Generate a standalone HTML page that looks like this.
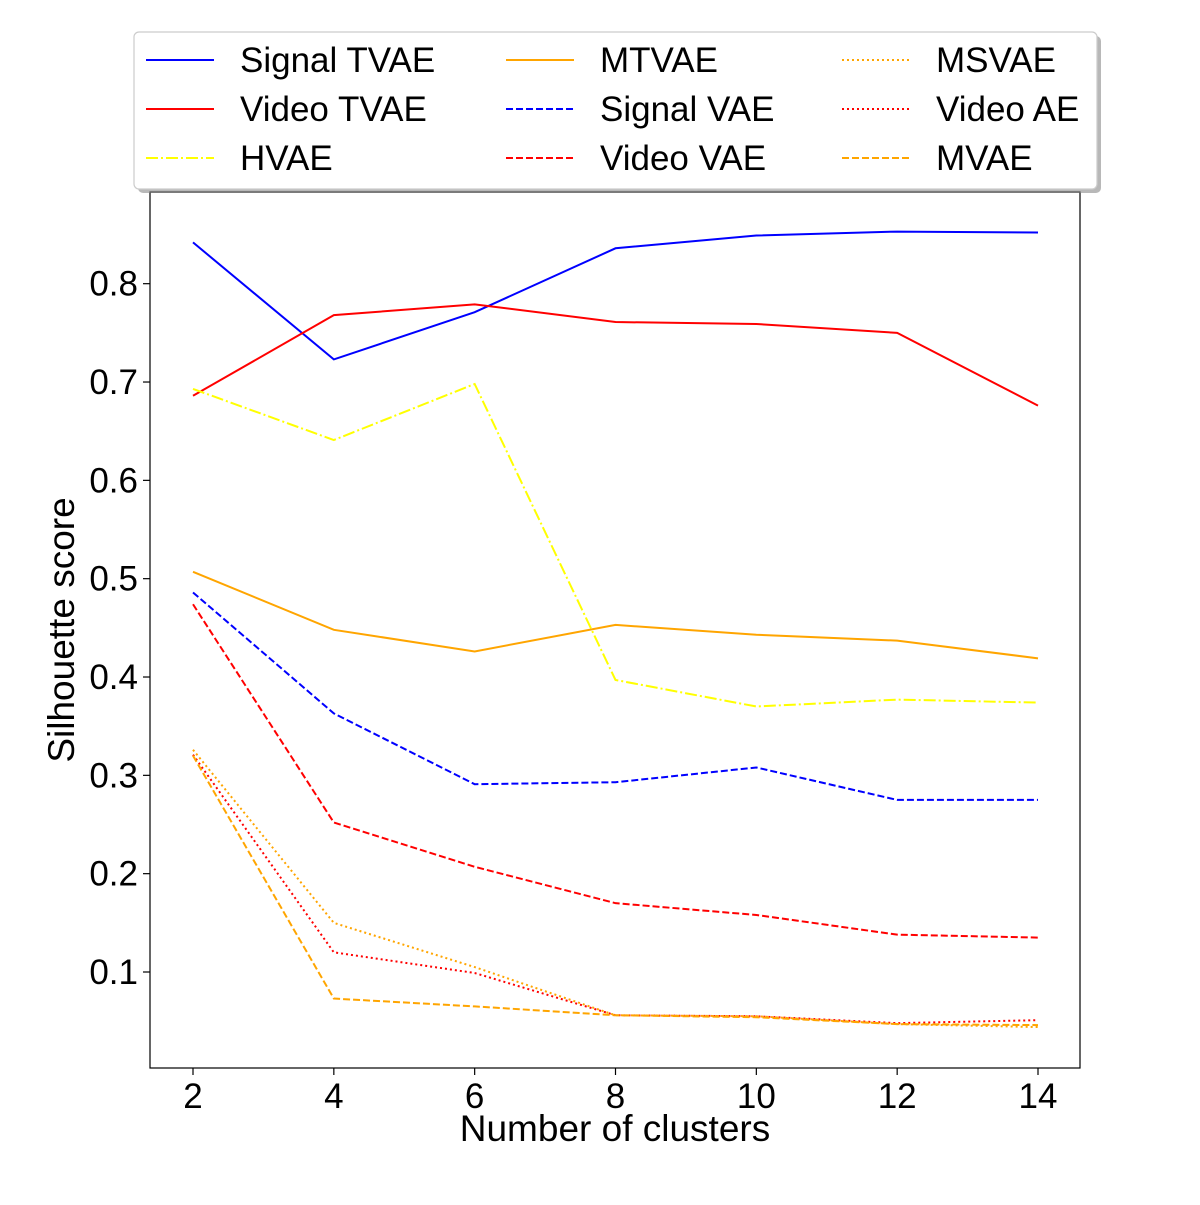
<!DOCTYPE html>
<html><head><meta charset="utf-8"><style>body{margin:0;background:#fff}svg{font-family:"Liberation Sans","DejaVu Sans",sans-serif}</style></head>
<body>
<svg id="chart" width="1200" height="1200" viewBox="0 0 1200 1200" xmlns="http://www.w3.org/2000/svg">
<rect width="1200" height="1200" fill="#fff"/>
<g id="plot"></g>
</svg>
<script>
const clusters=[2,4,6,8,10,12,14];
const signalTVAE=[0.842,0.723,0.771,0.836,0.849,0.853,0.852];
const videoTVAE=[0.686,0.768,0.779,0.761,0.759,0.750,0.676];
const hvae=[0.693,0.641,0.698,0.397,0.370,0.377,0.374];
const mtvae=[0.507,0.448,0.426,0.453,0.443,0.437,0.419];
const signalVAE=[0.486,0.363,0.291,0.293,0.308,0.275,0.275];
const videoVAE=[0.474,0.252,0.207,0.170,0.158,0.138,0.135];
const msvae=[0.326,0.150,0.105,0.056,0.055,0.047,0.044];
const videoAE=[0.321,0.120,0.099,0.056,0.055,0.048,0.051];
const mvae=[0.320,0.073,0.065,0.056,0.054,0.047,0.046];
const yTicks=[0.1,0.2,0.3,0.4,0.5,0.6,0.7,0.8];
const xTicks=[2,4,6,8,10,12,14];
const series=[
 {name:"Signal TVAE",data:signalTVAE,color:"#0000ff",dash:""},
 {name:"Video TVAE",data:videoTVAE,color:"#ff0000",dash:""},
 {name:"HVAE",data:hvae,color:"#ffff00",dash:"12,3,2,3"},
 {name:"MTVAE",data:mtvae,color:"#ffa500",dash:""},
 {name:"Signal VAE",data:signalVAE,color:"#0000ff",dash:"7,3"},
 {name:"Video VAE",data:videoVAE,color:"#ff0000",dash:"7,3"},
 {name:"MSVAE",data:msvae,color:"#ffa500",dash:"2,3"},
 {name:"Video AE",data:videoAE,color:"#ff0000",dash:"2,3"},
 {name:"MVAE",data:mvae,color:"#ffa500",dash:"7,3"}
];
const L=150,R=1080,T=192,B=1068;
const X=v=>193+(v-2)*(1038-193)/12;
const Y=v=>972-(v-0.1)*983.3;
const NS="http://www.w3.org/2000/svg";
const g=document.getElementById('plot');
function mk(t,a,p){const e=document.createElementNS(NS,t);for(const k in a)e.setAttribute(k,a[k]);(p||g).appendChild(e);return e;}
const frame=mk('rect',{x:L,y:T,width:R-L,height:B-T,fill:'none',stroke:'#000','stroke-width':1.2});


series.forEach(s=>{
 const p=mk('polyline',{points:s.data.map((v,i)=>X(clusters[i])+','+Y(v)).join(' '),fill:'none',stroke:s.color,'stroke-width':2,'stroke-dasharray':s.dash});
 
 
});
yTicks.forEach(v=>{
 mk('line',{x1:L-7,x2:L,y1:Y(v),y2:Y(v),stroke:'#000','stroke-width':1.2});
 const t=mk('text',{x:L-12,y:Y(v)+12,'text-anchor':'end','font-size':35});
 t.textContent=v.toFixed(1);
 
 
});
xTicks.forEach(v=>{
 mk('line',{x1:X(v),x2:X(v),y1:B,y2:B+7,stroke:'#000','stroke-width':1.2});
 const t=mk('text',{x:X(v),y:B+40,'text-anchor':'middle','font-size':35});
 t.textContent=v;
 
 
});
const xt=mk('text',{x:615,y:1141,'text-anchor':'middle','font-size':37});
xt.textContent='Number of clusters';


const yt=mk('text',{x:74,y:630,'text-anchor':'middle','font-size':37,transform:'rotate(-90 74 630)'});
yt.textContent='Silhouette score';


const lg=mk('g',{});


mk('rect',{x:138,y:36,width:963,height:157,rx:5,fill:'#888',opacity:0.6},lg);
mk('rect',{x:134,y:32,width:963,height:157,rx:5,fill:'#fff',stroke:'#ccc','stroke-width':1.2},lg);
const colX=[146,506,842],rowY=[60,109,158];
series.forEach((s,i)=>{
 const c=Math.floor(i/3),r=i%3;
 const e=mk('g',{},lg);
 
 
 mk('line',{x1:colX[c],x2:colX[c]+68,y1:rowY[r],y2:rowY[r],stroke:s.color,'stroke-width':2,'stroke-dasharray':s.dash},e);
 const t=mk('text',{x:colX[c]+94,y:rowY[r]+12,'font-size':35},e);
 t.textContent=s.name;
});
</script>
</body></html>
